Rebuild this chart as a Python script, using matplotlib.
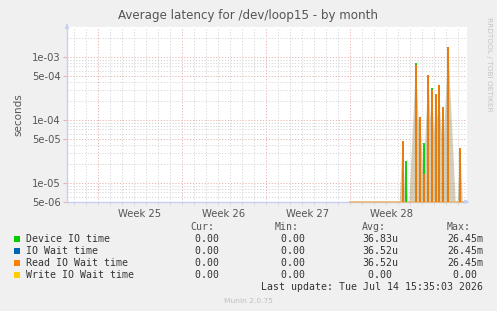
import numpy as np
import matplotlib
matplotlib.use("Agg")
import matplotlib.pyplot as plt
from matplotlib.patches import Rectangle

W, H = 497, 311

# x axis: days counted from the Monday that starts week 25
x_range = (-2.583, 30.75)
week_starts = [0, 7, 14, 21]
week_labels = ["Week 25", "Week 26", "Week 27", "Week 28"]
data_start = 21.0          # rrd holds data (zeros) from here on

# spikes (seconds)
spike_day = [25.39, 25.69, 26.50, 26.86, 27.19, 27.53, 27.83, 28.17, 28.42, 28.72, 29.19, 30.19]
device_io = [4.4e-5, 2.2e-5, 7.9e-4, 1.0e-4, 4.3e-5, 4.8e-4, 3.2e-4, 2.4e-4, 3.3e-4, 1.5e-4, 1.4e-3, 3.4e-5]
io_wait   = [4.6e-5, 0.0,    7.4e-4, 1.1e-4, 1.4e-5, 5.1e-4, 3.0e-4, 2.6e-4, 3.6e-4, 1.6e-4, 1.45e-3, 3.6e-5]
read_wait = [4.6e-5, 0.0,    7.4e-4, 1.1e-4, 1.4e-5, 5.1e-4, 3.0e-4, 2.6e-4, 3.6e-4, 1.6e-4, 1.45e-3, 3.6e-5]
write_wait = [0.0] * len(spike_day)

series_names = ["Device IO time", "IO Wait time", "Read IO Wait time", "Write IO Wait time"]
series_colors = ["#00cc00", "#0066b3", "#ff8000", "#ffcc00"]
cur_vals = ["0.00 ", "0.00 ", "0.00 ", "0.00 "]
min_vals = ["0.00 ", "0.00 ", "0.00 ", "0.00 "]
avg_vals = ["36.83u", "36.52u", "36.52u", "0.00 "]
max_vals = ["26.45m", "26.45m", "26.45m", "0.00 "]

y_ticks = [5e-6, 1e-5, 5e-5, 1e-4, 5e-4, 1e-3]
y_range = (5e-6, 2.96e-3)

BG = "#f0f0f0"
AXIS = "#c8cff5"
MAJOR = "#ebb0b0"
MINOR = "#d6d6d6"
TXT = "#555555"


def fx(px):
    return px / W


def fy(py):
    return 1 - py / H


fig = plt.figure(figsize=(W / 100, H / 100), dpi=100, facecolor=BG)
ax = fig.add_axes([fx(67), fy(201.7), 400 / W, 174.7 / H])
ax.set_facecolor("white")
ax.set_yscale("log")
ax.set_xlim(*x_range)
ax.set_ylim(*y_range)

# grid, munin style
dots = (0, (1.2, 1.8))
for d in range(int(np.ceil(x_range[0])), int(x_range[1]) + 1):
    if d in week_starts:
        continue
    ax.axvline(d, color=MINOR, lw=0.7, ls=dots, zorder=1)
for d in week_starts:
    ax.axvline(d, color=MAJOR, lw=0.7, ls=dots, zorder=1)
for dec in [1e-6, 1e-5, 1e-4, 1e-3]:
    for m in range(2, 10):
        v = m * dec
        if y_range[0] < v < y_range[1] and m != 5:
            ax.axhline(v, color=MINOR, lw=0.7, ls=dots, zorder=1)
for v in y_ticks:
    ax.axhline(v, color=MAJOR, lw=0.7, ls=dots, zorder=1)

# faint olive shading between spikes (antialiased averaged lines)
grid_x = np.linspace(data_start, x_range[1], 2000)
peaks = np.maximum(np.array(device_io), np.array(read_wait))
env = np.full_like(grid_x, -8.0)
for t, p in zip(spike_day, peaks):
    env = np.maximum(env, np.log10(p) - 4.0 * np.abs(grid_x - t))
ax.fill_between(grid_x, 1e-7, 10 ** env, color="#8e8048", alpha=0.38, lw=0, zorder=2)

floor = 1e-7
# zero line along the bottom where data exists
ax.plot([data_start, x_range[1]], [y_range[0], y_range[0]], color="#e8b878", lw=1.2,
        zorder=3, clip_on=False)
for vals, col in zip([device_io, io_wait, read_wait, write_wait], series_colors):
    for t, v in zip(spike_day, vals):
        if v > 0:
            ax.vlines(t, floor, v, color=col, lw=1.3, zorder=4)

for s in ["top", "right"]:
    ax.spines[s].set_visible(False)
for s in ["left", "bottom"]:
    ax.spines[s].set_color(AXIS)
    ax.spines[s].set_linewidth(1.0)

ax.set_yticks(y_ticks)
ax.set_yticklabels(["{:.0e}".format(v) for v in y_ticks])
ax.yaxis.set_minor_locator(matplotlib.ticker.NullLocator())
ax.tick_params(axis="y", length=3, color=MAJOR, labelsize=7.2, labelcolor=TXT, pad=1.5)
ax.set_xticks([w + 3.5 for w in week_starts])
ax.set_xticklabels(week_labels)
ax.set_xticks(range(int(np.ceil(x_range[0])), int(x_range[1]) + 1), minor=True)
ax.tick_params(axis="x", which="major", length=0, labelsize=7.2, labelcolor=TXT, pad=5)
ax.tick_params(axis="x", which="minor", length=2, color=MINOR)
ax.set_ylabel("seconds", fontsize=7.5, color=TXT, labelpad=6)

# axis arrows
ax.annotate("", xy=(fx(472), fy(201.7)), xytext=(fx(465), fy(201.7)), xycoords="figure fraction",
            arrowprops=dict(arrowstyle="-|>", color=AXIS, lw=0.8, mutation_scale=6))
ax.annotate("", xy=(fx(67), fy(21)), xytext=(fx(67), fy(28)), xycoords="figure fraction",
            arrowprops=dict(arrowstyle="-|>", color=AXIS, lw=0.8, mutation_scale=6))

fig.text(fx(248), fy(19), "Average latency for /dev/loop15 - by month", ha="center",
         va="baseline", fontsize=8.6, color=TXT)
fig.text(fx(489), fy(17), "RRDTOOL / TOBI OETIKER", rotation=-90, ha="center", va="top",
         fontsize=5.3, color="#c4c4c4")

# legend block
mono = "DejaVu Sans Mono"
fs = 7.1
fig.text(fx(190), fy(230.5), "Cur:", family=mono, fontsize=fs, color=TXT, ha="left", va="baseline")
fig.text(fx(275), fy(230.5), "Min:", family=mono, fontsize=fs, color=TXT, ha="left", va="baseline")
fig.text(fx(361.7), fy(230.5), "Avg:", family=mono, fontsize=fs, color=TXT, ha="left", va="baseline")
fig.text(fx(446.7), fy(230.5), "Max:", family=mono, fontsize=fs, color=TXT, ha="left", va="baseline")
for i, name in enumerate(series_names):
    yb = 242.5 + 12 * i
    fig.patches.append(Rectangle((fx(14), fy(yb - 1)), 6 / W, 6 / H, transform=fig.transFigure,
                                 facecolor=series_colors[i], edgecolor="none"))
    fig.text(fx(26.3), fy(yb), name, family=mono, fontsize=fs, color="#333333", va="baseline")
    for xr, vals in [(225, cur_vals), (311, min_vals), (398.3, avg_vals), (483.3, max_vals)]:
        fig.text(fx(xr), fy(yb), vals[i], family=mono, fontsize=fs, color="#333333",
                 ha="right", va="baseline")
fig.text(fx(483.3), fy(290.5), "Last update: Tue Jul 14 15:35:03 2026", family=mono, fontsize=fs,
         color="#333333", ha="right", va="baseline")
fig.text(fx(248), fy(303), "Munin 2.0.75", fontsize=5.4, color="#c0c0c0", ha="center", va="baseline")

fig.savefig("out.png", dpi=100, facecolor=BG)
